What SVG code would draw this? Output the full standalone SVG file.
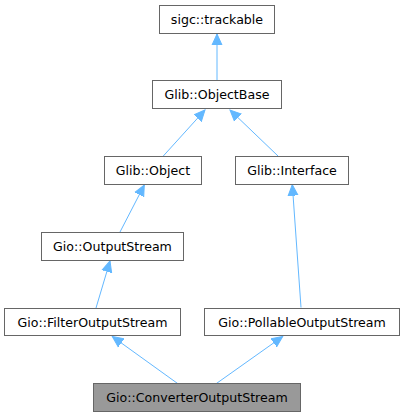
<svg xmlns="http://www.w3.org/2000/svg" width="405" height="417" viewBox="0 0 405 417">
<style>
.node rect{fill:#ffffff;stroke:#666666;stroke-width:1}
.node.cur rect{fill:#999999}
.node text{font-family:"DejaVu Sans","Liberation Sans",sans-serif;font-size:12.6px;fill:#000000;text-anchor:middle}
.edge{stroke:#63b8ff;stroke-width:1;fill:none;marker-end:url(#ah)}
</style>
<defs>
<marker id="ah" markerUnits="userSpaceOnUse" markerWidth="12" markerHeight="12" viewBox="0 0 12 12" refX="11" refY="6" orient="auto">
<path d="M0,1 L11,6 L0,11 Z" fill="#63b8ff" stroke="#63b8ff" stroke-width="1"/>
</marker>
</defs>
<rect width="405" height="417" fill="#ffffff"/>
<g id="connectors">
<path class="edge" d="M217,80 L217,34"/>
<path class="edge" d="M163.3,156 L205,110"/>
<path class="edge" d="M278,156 L230,110"/>
<path class="edge" d="M120,232 L144.3,185"/>
<path class="edge" d="M301,307.5 L292.3,184.7"/>
<path class="edge" d="M96,308 L110,261"/>
<path class="edge" d="M178.3,384 L112.3,336.5"/>
<path class="edge" d="M215.7,384 L282.7,336.5"/>
</g>
<g id="sigc_trackable" class="node"><rect x="159.5" y="5.5" width="115" height="28"/><text x="217" y="24">sigc::trackable</text></g>
<g id="Glib_ObjectBase" class="node"><rect x="152.5" y="80.5" width="129" height="28"/><text x="217" y="99">Glib::ObjectBase</text></g>
<g id="Glib_Object" class="node"><rect x="104.5" y="156.5" width="97" height="28"/><text x="153" y="175">Glib::Object</text></g>
<g id="Glib_Interface" class="node"><rect x="235.5" y="156.5" width="113" height="28"/><text x="292" y="175">Glib::Interface</text></g>
<g id="Gio_OutputStream" class="node"><rect x="41.5" y="232.5" width="142" height="28"/><text x="112.5" y="251">Gio::OutputStream</text></g>
<g id="Gio_FilterOutputStream" class="node"><rect x="4.5" y="308.5" width="176" height="27"/><text x="92.5" y="326.5">Gio::FilterOutputStream</text></g>
<g id="Gio_PollableOutputStream" class="node"><rect x="204.5" y="308.5" width="195" height="27"/><text x="302" y="326.5">Gio::PollableOutputStream</text></g>
<g id="Gio_ConverterOutputStream" class="node cur"><rect x="93.5" y="383.5" width="207" height="28"/><text x="197" y="402">Gio::ConverterOutputStream</text></g>
</svg>
